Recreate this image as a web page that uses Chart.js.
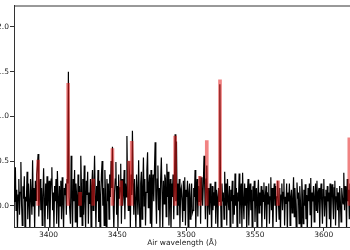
<!DOCTYPE html>
<html>
<head>
<meta charset="utf-8">
<script src="https://cdn.jsdelivr.net/npm/chart.js@4/dist/chart.umd.min.js"></script>
<style>
  html, body { margin: 0; padding: 0; background: #fff; overflow: hidden; }
  #chart { display: block; }
</style>
</head>
<body>
<canvas id="chart" width="350" height="250"></canvas>
<script>
// wavelength grid (Angstrom), 0.5 A per sample
const waveStart = 3375;
const waveStep = 0.5;

// observed flux, 20 samples (10 A) per row, from 3375 to 3620
const flux = [
    0.05, 0.20, 0.43, -0.05, 0.18, -0.26, 0.12, 0.30, -0.10, 0.15, 0.49, 0.02, -0.22, 0.22, 0.08, 0.33, -0.30, 0.10, 0.05, 0.38,
    -0.15, 0.25, 0.05, -0.28, 0.30, 0.12, -0.10, 0.51, 0.00, 0.20, -0.25, 0.28, 0.06, 0.35, 0.45, 0.58, -0.12, 0.10, 0.30, -0.05,
    0.20, -0.22, 0.10, 0.42, 0.05, -0.28, 0.25, 0.00, 0.33, -0.15, 0.18, 0.28, -0.30, 0.12, 0.30, 0.43, -0.05, 0.15, -0.25, 0.22,
    0.05, 0.30, -0.20, 0.39, 0.10, -0.28, 0.22, 0.00, 0.28, -0.15, 0.32, 0.05, -0.26, 0.20, 0.12, 0.25, -0.10, 0.30, 0.25, 1.50,
    0.10, 0.10, -0.20, 0.56, 0.15, -0.28, 0.30, 0.05, 0.40, -0.18, 0.25, 0.10, -0.30, 0.35, 0.00, 0.22, -0.12, 0.56, 0.20, -0.22,
    0.30, -0.10, 0.45, 0.05, -0.26, 0.28, 0.12, 0.38, -0.20, 0.15, 0.02, 0.30, -0.28, 0.22, 0.40, -0.05, 0.18, 0.56, 0.10, -0.25,
    0.22, 0.05, 0.40, -0.18, 0.28, -0.30, 0.12, 0.35, 0.50, 0.00, 0.20, -0.22, 0.40, 0.10, -0.28, 0.30, 0.05, 0.25, -0.15, 0.35,
    0.10, 0.50, 0.20, 0.66, 0.05, -0.28, 0.15, 0.30, 0.49, -0.10, 0.22, -0.26, 0.35, 0.08, 0.20, 0.47, -0.20, 0.30, 0.00, 0.15,
    0.40, -0.15, 0.25, 0.10, 0.78, 0.20, -0.05, 0.50, 0.30, -0.25, 0.35, 0.12, 0.84, 0.25, -0.10, 0.30, 0.05, -0.28, 0.35, 0.15,
    -0.10, 0.51, 0.05, -0.30, 0.25, 0.38, -0.15, 0.20, 0.54, 0.00, 0.30, -0.22, 0.15, 0.40, 0.60, -0.02, 0.22, 0.35, -0.20, 0.40,
    -0.28, 0.15, 0.35, 0.05, 0.40, 0.71, 0.10, -0.20, 0.30, 0.45, -0.05, 0.20, -0.26, 0.30, 0.54, 0.15, -0.25, 0.28, 0.02, 0.35,
    0.30, -0.12, 0.47, 0.10, 0.38, -0.22, 0.05, 0.30, -0.30, 0.25, 0.10, 0.35, -0.15, 0.20, 0.80, 0.05, 0.72, -0.10, 0.25, 0.00,
    0.30, -0.26, 0.15, 0.20, 0.05, -0.18, 0.28, -0.05, 0.32, -0.22, 0.18, 0.10, 0.28, -0.30, 0.15, 0.25, -0.15, 0.05, 0.25, -0.08,
    -0.05, 0.20, 0.10, 0.40, -0.28, 0.15, 0.30, -0.12, 0.22, 0.05, 0.33, -0.20, 0.32, 0.10, 0.00, 0.25, 0.56, 0.20, -0.15, 0.30,
    0.45, -0.25, 0.20, 0.05, -0.10, 0.25, 0.10, -0.30, 0.22, -0.05, 0.15, 0.00, 0.27, -0.20, 0.18, 0.10, -0.28, 0.20, 0.05, 1.36,
    0.10, -0.28, 0.25, 0.05, 0.15, -0.15, 0.38, 0.00, 0.25, -0.22, 0.30, 0.08, -0.05, 0.22, -0.30, 0.18, 0.05, 0.28, -0.20, 0.12,
    -0.10, 0.36, 0.00, 0.20, -0.25, 0.15, 0.05, 0.36, -0.20, 0.12, 0.25, -0.28, 0.37, 0.05, -0.15, 0.25, 0.00, 0.20, -0.30, 0.15,
    0.30, -0.22, 0.10, 0.25, -0.05, 0.18, -0.30, 0.22, 0.05, 0.28, -0.18, 0.10, 0.20, -0.25, 0.12, 0.29, -0.08, 0.15, 0.00, 0.22,
    -0.28, 0.18, 0.05, 0.26, -0.15, 0.10, 0.22, -0.25, 0.15, 0.02, 0.25, -0.20, 0.10, 0.32, -0.05, 0.20, -0.30, 0.12, 0.25, 0.00,
    0.22, -0.18, 0.10, 0.28, 0.05, -0.15, 0.20, -0.28, 0.12, 0.25, -0.05, 0.15, 0.30, -0.22, 0.10, 0.02, 0.25, -0.30, 0.15, 0.05,
    0.25, -0.22, 0.10, 0.18, -0.08, 0.05, 0.32, -0.12, 0.20, 0.00, -0.28, 0.26, 0.08, 0.15, -0.20, 0.22, 0.05, -0.25, 0.30, 0.10,
    -0.20, 0.18, 0.00, 0.24, -0.15, 0.12, -0.30, 0.20, 0.05, 0.25, -0.10, 0.31, -0.25, 0.15, 0.05, 0.22, -0.18, 0.10, 0.25, -0.05,
    0.28, -0.08, 0.15, 0.20, -0.26, 0.10, 0.25, 0.02, -0.20, 0.18, 0.30, -0.12, 0.10, 0.18, -0.28, 0.22, 0.05, 0.15, -0.15, 0.25,
    -0.28, 0.12, 0.24, 0.05, -0.15, 0.20, 0.28, -0.22, 0.10, 0.20, -0.05, 0.15, -0.25, 0.22, 0.05, -0.18, 0.20, 0.10, 0.02, 0.37,
    -0.05, 0.22, 0.10, -0.25, 0.30, 0.05, 0.18, -0.15, 0.25, 0.10, -0.10
];

// model emission lines (red)
const lineWaves = [3392.5, 3414.3, 3423.0, 3432.5, 3446.5, 3452.8, 3458.5, 3460.5,
                   3492.0, 3510.0, 3515.0, 3524.6, 3566.7, 3618.5];
const lineHeights = [0.51, 1.37, 0.15, 0.30, 0.64, 0.28, 0.50, 0.72,
                     0.78, 0.33, 0.73, 1.41, 0.28, 0.76];

// axes
const xTicks = [3400, 3450, 3500, 3550, 3600];
const yTicks = [0.0, 0.5, 1.0, 1.5, 2.0];
const xLabel = 'Air wavelength (Å)';

const spectrum = flux.map((f, i) => ({ x: waveStart + i * waveStep, y: f }));
const model = lineWaves.map((w, i) => ({ x: w, y: lineHeights[i] }));

const font = { family: 'DejaVu Sans', size: 7.5 };
const axisColor = '#333';

// matplotlib style frame: top spine
const topSpine = {
    id: 'topSpine',
    afterDraw(chart) {
        const { ctx, chartArea } = chart;
        ctx.save();
        ctx.strokeStyle = axisColor;
        ctx.lineWidth = 1;
        ctx.beginPath();
        ctx.moveTo(chartArea.left, chartArea.top + 0.5);
        ctx.lineTo(chartArea.right, chartArea.top + 0.5);
        ctx.stroke();
        ctx.restore();
    }
};

new Chart(document.getElementById('chart'), {
    type: 'line',
    data: {
        datasets: [
            {
                type: 'bar',
                data: model,
                backgroundColor: 'rgba(230, 30, 30, 0.55)',
                borderWidth: 0,
                barThickness: 3,
                grouped: false,
                order: 0
            },
            {
                type: 'line',
                data: spectrum,
                borderColor: '#000',
                borderWidth: 1.2,
                pointRadius: 0,
                tension: 0,
                order: 1
            }
        ]
    },
    options: {
        responsive: false,
        animation: false,
        devicePixelRatio: 1,
        layout: { padding: { top: 4, right: 0, bottom: 0, left: 0 } },
        plugins: {
            legend: { display: false },
            tooltip: { enabled: false }
        },
        scales: {
            x: {
                type: 'linear',
                min: 3375,
                max: 3619,
                offset: false,
                afterBuildTicks: axis => { axis.ticks = xTicks.map(v => ({ value: v })); },
                afterFit: axis => { axis.height = 23; },
                ticks: { font, color: '#222', padding: 0, maxRotation: 0, callback: v => String(v) },
                grid: { drawOnChartArea: false, drawTicks: true, tickLength: 4, color: axisColor, offset: false },
                border: { color: axisColor, width: 1 },
                title: { display: true, text: xLabel, font, color: '#222', padding: { top: 0, bottom: 2 } }
            },
            y: {
                type: 'linear',
                min: -0.237,
                max: 2.24,
                afterBuildTicks: axis => { axis.ticks = yTicks.map(v => ({ value: v })); },
                afterFit: axis => { axis.width = 14; },
                ticks: { font, color: '#222', padding: 1, callback: v => v.toFixed(1) },
                grid: { drawOnChartArea: false, drawTicks: true, tickLength: 4, color: axisColor },
                border: { color: axisColor, width: 1 }
            }
        }
    },
    plugins: [topSpine]
});
</script>
</body>
</html>
